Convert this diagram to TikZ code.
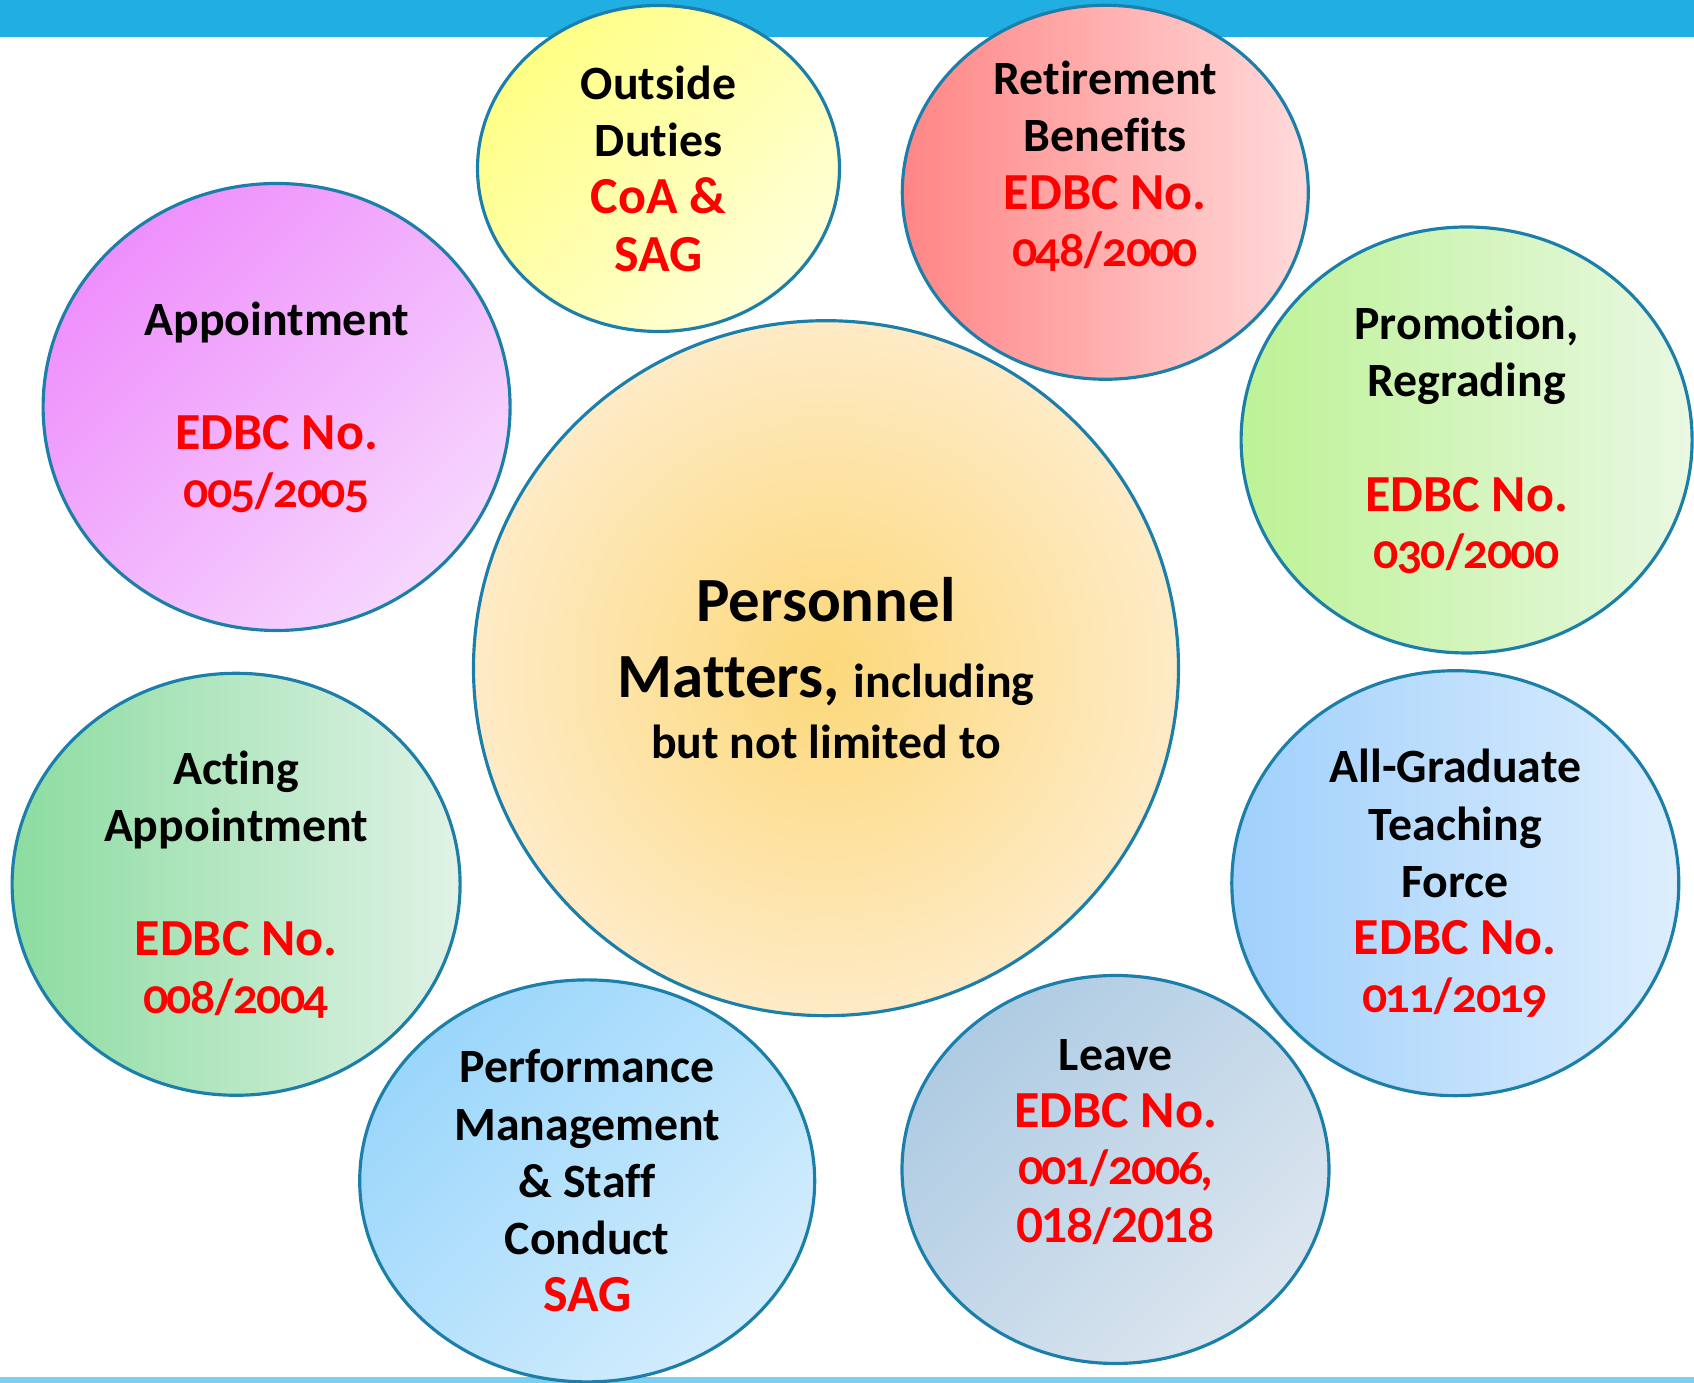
\documentclass[tikz,border=0pt]{standalone}
\usepackage{fontspec}
\setmainfont{Carlito}[Ligatures=NoCommon]
\newfontfamily\oldfig{Lato}[Numbers=OldStyle, Scale=0.9, LetterSpace=-4, Ligatures=NoCommon]
\newfontfamily\linfig{Lato}[Numbers=Lining, Scale=0.9, LetterSpace=-4, Ligatures=NoCommon]
\usepackage{tkz-graph}
\usetikzlibrary{shapes.geometric}
\definecolor{bandblue}{HTML}{21AEE2}
\definecolor{lineblue}{HTML}{7DCFEF}
\definecolor{rimblue}{HTML}{1B7FAA}
\definecolor{edbcred}{HTML}{FF0000}
\definecolor{yellowA}{HTML}{FFFF85}
\definecolor{yellowB}{HTML}{FFFFD8}
\definecolor{redA}{HTML}{FF8585}
\definecolor{redB}{HTML}{FFDADA}
\definecolor{magA}{HTML}{EE8FFC}
\definecolor{magB}{HTML}{F6D7FD}
\definecolor{greenA}{HTML}{BDF296}
\definecolor{greenB}{HTML}{E9F8E2}
\definecolor{sandA}{HTML}{FCD87A}
\definecolor{sandB}{HTML}{FEEBC6}
\definecolor{tealA}{HTML}{8CDCA0}
\definecolor{tealB}{HTML}{E0F2E6}
\definecolor{skyA}{HTML}{A0D0FC}
\definecolor{skyB}{HTML}{DDEEFD}
\definecolor{iceA}{HTML}{9AD6FB}
\definecolor{iceB}{HTML}{D3EDFD}
\definecolor{slateA}{HTML}{AECBE3}
\definecolor{slateB}{HTML}{DCE6EF}
\newcommand{\edbc}[1]{{\color{edbcred}\fontsize{14.8}{16.3}\selectfont #1}}
\newcommand{\edbcno}[1]{{\color{edbcred}\fontsize{14.8}{16.3}\selectfont\oldfig #1}}
\newcommand{\edbcln}[1]{{\color{edbcred}\fontsize{14.8}{16.3}\selectfont\linfig #1}}

\begin{document}
\begin{tikzpicture}
\tikzset{bubble/.style={shape=ellipse, draw=rimblue, line width=0.9pt, inner sep=-6mm,
  align=center, font=\fontsize{13.6}{16.3}\selectfont\bfseries}}
\useasboundingbox (0,0) rectangle (16.94,13.83);
\fill[bandblue] (0,13.46) rectangle (16.94,13.83);
\fill[lineblue] (0,0) rectangle (16.94,0.06);
% topics round the centre
\tikzset{VertexStyle/.style={bubble, minimum width=3.62cm, minimum height=3.26cm,
  top color=yellowA, bottom color=yellowB, shading angle=45}}
\Vertex[x=6.585, y=12.145, L={Outside\\ Duties\\ \edbc{CoA \&}\\ \edbc{SAG}}]{duties}
\tikzset{VertexStyle/.style={bubble, minimum width=4.06cm, minimum height=3.74cm,
  left color=redA, right color=redB}}
\Vertex[x=11.053, y=11.907, L={Retirement\\ Benefits\\ \edbc{EDBC No.}\\ \edbcno{048/2000}\\ \mbox{}}]{retire}
\tikzset{VertexStyle/.style={bubble, minimum width=4.67cm, minimum height=4.47cm,
  top color=magA, bottom color=magB, shading angle=45}}
\Vertex[x=2.766, y=9.76, L={Appointment\\[16.3pt] \edbc{EDBC No.}\\ \edbcno{005/2005}}]{appoint}
\tikzset{VertexStyle/.style={bubble, minimum width=4.51cm, minimum height=4.26cm,
  left color=greenA, right color=greenB}}
\Vertex[x=14.666, y=9.43, L={Promotion,\\ Regrading\\[16.3pt] \edbc{EDBC No.}\\ \edbcno{030/2000}}]{promote}
\tikzset{VertexStyle/.style={bubble, minimum width=4.48cm, minimum height=4.22cm,
  left color=tealA, right color=tealB}}
\Vertex[x=2.361, y=4.987, L={Acting\\ Appointment\\[16.3pt] \edbc{EDBC No.}\\ \edbcno{008/2004}}]{acting}
\tikzset{VertexStyle/.style={bubble, minimum width=4.47cm, minimum height=4.25cm,
  left color=skyA, right color=skyB}}
\Vertex[x=14.553, y=4.998, L={All-Graduate\\ Teaching\\ Force\\ \edbc{EDBC No.}\\ \edbcno{011/2019}}]{graduate}
\tikzset{VertexStyle/.style={bubble, minimum width=4.55cm, minimum height=4.02cm,
  top color=iceA, bottom color=iceB, shading angle=45}}
\Vertex[x=5.872, y=2.021, L={Performance\\ Management\\ \& Staff\\ Conduct\\ \edbc{SAG}}]{perform}
\tikzset{VertexStyle/.style={bubble, minimum width=4.27cm, minimum height=3.88cm,
  top color=slateA, bottom color=slateB, shading angle=45}}
\Vertex[x=11.155, y=2.135, L={Leave\\ \edbc{EDBC No.}\\ \edbcno{001/2006,}\\ \edbcln{018/2018}\\ \mbox{}}]{leave}
% centre
\tikzset{VertexStyle/.style={bubble, minimum width=7.05cm, minimum height=6.95cm,
  inner color=sandA, outer color=sandB, font=\fontsize{17.9}{21.5}\selectfont\bfseries}}
\Vertex[x=8.26, y=7.148, L={Personnel\\ Matters, {\fontsize{13.6}{15}\selectfont including}\\[-4pt] {\fontsize{13.6}{15}\selectfont but not limited to}}]{personnel}
\end{tikzpicture}
\end{document}
